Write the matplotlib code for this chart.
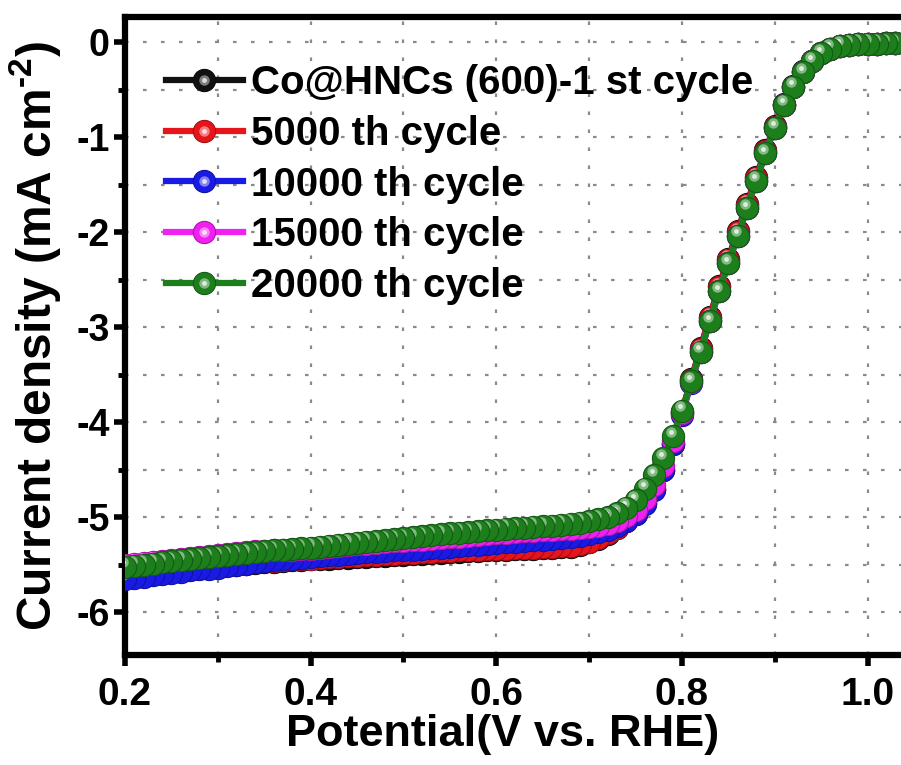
import numpy as np
import matplotlib
matplotlib.use('Agg')
import matplotlib.pyplot as plt
from matplotlib.ticker import MultipleLocator
from matplotlib.transforms import ScaledTranslation
from matplotlib.legend_handler import HandlerTuple
from matplotlib.lines import Line2D
from matplotlib.colors import to_rgb

plt.rcParams['font.family'] = ['Liberation Sans', 'DejaVu Sans']
plt.rcParams['font.weight'] = 'bold'
plt.rcParams['axes.unicode_minus'] = False
plt.rcParams['mathtext.fontset'] = 'custom'
plt.rcParams['mathtext.rm'] = 'Liberation Sans:bold'
plt.rcParams['mathtext.bf'] = 'Liberation Sans:bold'
plt.rcParams['mathtext.default'] = 'bf'

# potential grid of the LSV scans (V vs. RHE), one point every 10 mV
potential = np.round(np.linspace(0.20, 1.04, 85), 3)

# current density (mA cm-2)
cycle_1 = [-5.61, -5.60, -5.59, -5.58, -5.57, -5.56, -5.55, -5.54, -5.53, -5.52,
           -5.51, -5.505, -5.50, -5.49, -5.48, -5.475, -5.47, -5.46, -5.455, -5.45,
           -5.445, -5.44, -5.435, -5.43, -5.425, -5.42, -5.415, -5.41, -5.405, -5.40,
           -5.395, -5.39, -5.385, -5.38, -5.375, -5.37, -5.365, -5.36, -5.355, -5.35,
           -5.345, -5.34, -5.335, -5.33, -5.33, -5.325, -5.32, -5.315, -5.31, -5.295,
           -5.265, -5.225, -5.175, -5.115, -5.045, -4.965, -4.855, -4.705, -4.505, -4.235,
           -3.89, -3.55, -3.22, -2.89, -2.57, -2.28, -1.99, -1.70, -1.42, -1.14,
           -0.88, -0.65, -0.46, -0.31, -0.20, -0.12, -0.07, -0.04, -0.03, -0.02,
           -0.02, -0.02, -0.01, -0.01, -0.01]
cycle_5000 = [-5.60, -5.59, -5.58, -5.57, -5.56, -5.55, -5.54, -5.53, -5.52, -5.51,
              -5.50, -5.495, -5.49, -5.48, -5.47, -5.465, -5.46, -5.45, -5.445, -5.44,
              -5.435, -5.43, -5.42, -5.415, -5.41, -5.405, -5.40, -5.395, -5.39, -5.385,
              -5.38, -5.375, -5.37, -5.365, -5.36, -5.355, -5.35, -5.345, -5.34, -5.335,
              -5.33, -5.33, -5.325, -5.32, -5.32, -5.315, -5.31, -5.305, -5.30, -5.285,
              -5.26, -5.22, -5.17, -5.11, -5.04, -4.96, -4.85, -4.70, -4.50, -4.23,
              -3.90, -3.56, -3.23, -2.90, -2.58, -2.29, -2.00, -1.71, -1.43, -1.15,
              -0.89, -0.66, -0.47, -0.32, -0.20, -0.12, -0.07, -0.04, -0.03, -0.02,
              -0.02, -0.02, -0.01, -0.01, -0.01]
cycle_10000 = [-5.65, -5.64, -5.625, -5.61, -5.60, -5.59, -5.575, -5.56, -5.55, -5.54,
               -5.53, -5.515, -5.50, -5.49, -5.475, -5.46, -5.45, -5.44, -5.435, -5.43,
               -5.42, -5.41, -5.40, -5.395, -5.39, -5.38, -5.37, -5.365, -5.36, -5.35,
               -5.345, -5.34, -5.33, -5.325, -5.32, -5.31, -5.30, -5.295, -5.29, -5.28,
               -5.27, -5.265, -5.26, -5.25, -5.24, -5.235, -5.23, -5.22, -5.21, -5.20,
               -5.18, -5.16, -5.13, -5.09, -5.04, -4.97, -4.86, -4.71, -4.50, -4.23,
               -3.92, -3.59, -3.26, -2.94, -2.62, -2.33, -2.04, -1.75, -1.46, -1.17,
               -0.90, -0.66, -0.47, -0.32, -0.20, -0.12, -0.07, -0.04, -0.03, -0.02,
               -0.02, -0.02, -0.01, -0.01, -0.01]
cycle_15000 = [-5.50, -5.49, -5.48, -5.47, -5.46, -5.45, -5.44, -5.43, -5.42, -5.41,
               -5.40, -5.39, -5.38, -5.37, -5.36, -5.355, -5.35, -5.345, -5.34, -5.335,
               -5.33, -5.32, -5.31, -5.30, -5.29, -5.285, -5.28, -5.27, -5.26, -5.255,
               -5.25, -5.24, -5.235, -5.23, -5.22, -5.21, -5.205, -5.20, -5.19, -5.18,
               -5.17, -5.165, -5.16, -5.15, -5.145, -5.14, -5.13, -5.125, -5.12, -5.11,
               -5.10, -5.09, -5.07, -5.04, -4.99, -4.92, -4.81, -4.66, -4.46, -4.20,
               -3.90, -3.58, -3.26, -2.94, -2.62, -2.33, -2.04, -1.75, -1.46, -1.17,
               -0.90, -0.66, -0.47, -0.32, -0.20, -0.12, -0.07, -0.04, -0.03, -0.02,
               -0.02, -0.02, -0.01, -0.01, -0.01]
cycle_20000 = [-5.52, -5.51, -5.50, -5.49, -5.475, -5.465, -5.455, -5.445, -5.43, -5.42,
               -5.41, -5.40, -5.39, -5.38, -5.37, -5.36, -5.35, -5.34, -5.335, -5.325,
               -5.32, -5.31, -5.30, -5.29, -5.28, -5.27, -5.26, -5.25, -5.24, -5.23,
               -5.22, -5.21, -5.20, -5.19, -5.18, -5.17, -5.165, -5.16, -5.15, -5.14,
               -5.13, -5.12, -5.115, -5.11, -5.10, -5.095, -5.09, -5.08, -5.07, -5.06,
               -5.04, -5.02, -5.00, -4.96, -4.90, -4.82, -4.70, -4.56, -4.38, -4.15,
               -3.88, -3.57, -3.26, -2.94, -2.62, -2.33, -2.04, -1.75, -1.46, -1.17,
               -0.90, -0.66, -0.47, -0.32, -0.20, -0.12, -0.07, -0.04, -0.03, -0.02,
               -0.02, -0.02, -0.01, -0.01, -0.01]

labels = ['Co@HNCs (600)-1 st cycle', '5000 th cycle', '10000 th cycle',
          '15000 th cycle', '20000 th cycle']
colors = ['#111111', '#e8141c', '#1a1ae6', '#f020f0', '#1c7f1c']
series = [cycle_1, cycle_5000, cycle_10000, cycle_15000, cycle_20000]


def lighter(c, amount):
    r, g, b = to_rgb(c)
    return (r + (1 - r) * amount, g + (1 - g) * amount, b + (1 - b) * amount)


def darker(c, amount):
    r, g, b = to_rgb(c)
    return (r * (1 - amount), g * (1 - amount), b * (1 - amount))


fig = plt.figure(figsize=(9.01, 7.65), dpi=100)
# axes runs past the right border, like the cropped original
ax = fig.add_axes([125 / 901, 110 / 765, 789 / 901, 638 / 765])

shift = ax.transData + ScaledTranslation(-1.5 / 72, 3.2 / 72, fig.dpi_scale_trans)
MS = 16

handles = []
for i, (ys, col) in enumerate(zip(series, colors)):
    z = 3 + i
    edge = darker(col, 0.3)
    glow_c = lighter(col, 0.45)
    spot_c = lighter(col, 0.85)
    ax.plot(potential, ys, '-', color=col, lw=4.5, zorder=z)
    # ball markers drawn point by point in scan direction (high -> low potential)
    for xv, yv in zip(potential[::-1], ys[::-1]):
        ax.plot(xv, yv, 'o', ms=MS, mfc=col, mec=edge, mew=0.8, zorder=z)
        ax.plot(xv, yv, 'o', ms=7.5, mfc=glow_c, mec='none', transform=shift, zorder=z)
        ax.plot(xv, yv, 'o', ms=3.5, mfc=spot_c, mec='none', transform=shift, zorder=z)
    handles.append((Line2D([], [], color=col, lw=4.5, marker='o', ms=MS, mfc=col,
                           mec=edge, mew=0.8),
                    Line2D([], [], ls='none', marker='o', ms=7.5, mfc=glow_c, mec='none'),
                    Line2D([], [], ls='none', marker='o', ms=3.5, mfc=spot_c, mec='none')))

ax.set_xlim(0.2, 1.05)
ax.set_ylim(-6.45, 0.263)
ax.xaxis.set_major_locator(MultipleLocator(0.2))
ax.xaxis.set_minor_locator(MultipleLocator(0.1))
ax.yaxis.set_major_locator(MultipleLocator(1))
ax.yaxis.set_minor_locator(MultipleLocator(0.5))
ax.xaxis.set_major_formatter(plt.FuncFormatter(lambda v, p: f'{v:.1f}'))
ax.yaxis.set_major_formatter(plt.FuncFormatter(lambda v, p: f'{v:.0f}'))

ax.grid(which='both', color='#8a8a8a', lw=1.6, linestyle=(0, (1.6, 6.5)), zorder=1)
ax.set_axisbelow(True)

for s in ax.spines.values():
    s.set_linewidth(4.5)
ax.tick_params(which='major', direction='out', length=8, width=4, pad=8)
ax.tick_params(which='minor', direction='out', length=5, width=3.5)
ax.tick_params(axis='y', which='major', pad=3)
ax.tick_params(axis='x', labelsize=28)
ax.tick_params(axis='y', labelsize=27)

ax.set_xlabel('Potential(V vs. RHE)', fontsize=32.5, fontweight='bold')
ax.set_ylabel('Current density (mA cm$^{\\text{-2}}$)', fontsize=34.5, fontweight='bold')
ax.xaxis.set_label_coords(0.478, -0.0925)
ax.yaxis.set_label_coords(-0.078, 0.5)

ax.legend(handles, labels, handler_map={tuple: HandlerTuple(ndivide=1, pad=0)},
          loc='upper left', bbox_to_anchor=(0.052, 0.926), frameon=False,
          fontsize=29, handlelength=1.9, handletextpad=0.2, labelspacing=0.315,
          borderpad=0, borderaxespad=0)

fig.savefig('out.png', dpi=100)
